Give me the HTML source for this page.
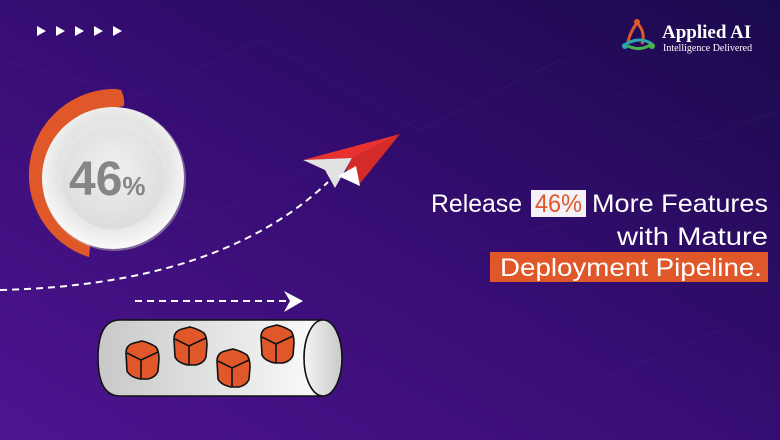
<!DOCTYPE html>
<html><head><meta charset="utf-8"><style>
html,body{margin:0;padding:0;width:780px;height:440px;overflow:hidden}
svg{display:block}
</style></head><body>
<svg width="780" height="440" viewBox="0 0 780 440" xmlns="http://www.w3.org/2000/svg">
<defs>
<linearGradient id="bg" x1="0" y1="1" x2="1" y2="0">
<stop offset="0" stop-color="#4e1490"/>
<stop offset="0.5" stop-color="#360d72"/>
<stop offset="1" stop-color="#1a0a4c"/>
</linearGradient>
<radialGradient id="plate" cx="0.5" cy="0.45" r="0.55">
<stop offset="0" stop-color="#f2f2f2"/>
<stop offset="0.7" stop-color="#e4e4e4"/>
<stop offset="1" stop-color="#fafafa"/>
</radialGradient>
<radialGradient id="inner" cx="0.5" cy="0.4" r="0.6">
<stop offset="0" stop-color="#f0f0f0"/>
<stop offset="1" stop-color="#dcdcdc"/>
</radialGradient>
<linearGradient id="pipe" x1="0" y1="0" x2="1" y2="0">
<stop offset="0" stop-color="#c8c8c8"/>
<stop offset="1" stop-color="#fbfbfb"/>
</linearGradient>
<linearGradient id="cap" x1="0" y1="0" x2="1" y2="0">
<stop offset="0" stop-color="#f4f4f4"/>
<stop offset="1" stop-color="#c9c9c9"/>
</linearGradient>
<g id="cube">
<path d="M-16,-8 Q-16,-16 -8,-18 L0,-20 Q8,-18 14,-14 Q17,-10 17,-2 L16,10 Q14,16 6,18 L-2,18 Q-12,16 -15,10 Z" fill="#e0582a" stroke="#111" stroke-width="1.6"/>
<path d="M-15,-8 L-1,-1 L16,-9 M-1,-1 L-1,18" fill="none" stroke="#111" stroke-width="1.6"/>
</g>
</defs>
<rect width="780" height="440" fill="url(#bg)"/>
<g stroke="#6a4aa8" stroke-width="0.5" opacity="0.25" fill="none">
<path d="M0,60 L140,95 L260,40 L420,130 L560,60 L700,140 L780,110"/>
<path d="M40,180 L200,220 L330,160 L480,250 L620,200 L780,300"/>
<path d="M500,300 L600,380 L720,330 L780,420"/>
</g>
<g fill="#fff">
<polygon points="37,26 46,31 37,36"/>
<polygon points="56,26 65,31 56,36"/>
<polygon points="75,26 84,31 75,36"/>
<polygon points="94,26 103,31 94,36"/>
<polygon points="113,26 122,31 113,36"/>
</g>
<path d="M116,89 L121,90 Q125,98 124,106 L113,108 L90,246 L89,257 A86,86 0 0 1 116,89 Z" fill="#e0582a"/>
<path d="M89,257 A86,86 0 0 1 116,89 L116,108 A70,70 0 0 0 90,246 Z" fill="#e0582a"/>
<circle cx="114" cy="179" r="72" fill="#b8b8b8" opacity="0.5"/>
<circle cx="113" cy="178" r="71" fill="url(#plate)"/>
<circle cx="113" cy="178" r="51" fill="url(#inner)"/>
<text x="69" y="195" font-family="Liberation Sans,sans-serif" font-weight="bold" font-size="48" fill="#868686">46<tspan font-size="26">%</tspan></text>
<path d="M0,290 Q220,285 328,182" fill="none" stroke="#fff" stroke-width="2" stroke-dasharray="7,5"/>
<polygon points="303,160 400,134 352,158" fill="#e8322e"/>
<polygon points="303,160 352,158 335,188 325,170" fill="#e2e2e2"/>
<polygon points="352,158 400,134 358,186 346,170" fill="#d42a28"/>
<polygon points="338,176 356,166 360,186" fill="#ffffff"/>
<line x1="135" y1="301" x2="288" y2="301" stroke="#fff" stroke-width="2" stroke-dasharray="7,5"/>
<polygon points="284,291 303,301 284,312 290,301" fill="#fff"/>
<path d="M120,320 L322,320 L322,396 L120,396 Q98,396 98,358 Q98,320 120,320 Z" fill="url(#pipe)" stroke="#111" stroke-width="1.6"/>
<ellipse cx="323" cy="358" rx="19" ry="38" fill="url(#cap)" stroke="#111" stroke-width="1.6"/>
<use href="#cube" x="142" y="361"/>
<use href="#cube" x="190" y="347"/>
<use href="#cube" x="233" y="369"/>
<use href="#cube" x="277" y="345"/>
<g font-family="Liberation Sans,sans-serif" font-size="25" fill="#fff">
<rect x="531" y="190" width="55" height="27" fill="#f4f2f7"/>
<text x="431" y="212" textLength="91" lengthAdjust="spacingAndGlyphs">Release</text>
<text x="535" y="212" textLength="47" lengthAdjust="spacingAndGlyphs" fill="#e0582a">46%</text>
<text x="592" y="212" textLength="176" lengthAdjust="spacingAndGlyphs">More Features</text>
<text x="617" y="245" textLength="151" lengthAdjust="spacingAndGlyphs">with Mature</text>
<rect x="490" y="252" width="278" height="30" fill="#e0582a"/>
<text x="500" y="276" textLength="262" lengthAdjust="spacingAndGlyphs">Deployment Pipeline.</text>
</g>
<g fill="none" stroke-width="3">
<path d="M637,23 Q630,32 628,42" stroke="#e0582a"/>
<path d="M637,23 Q646,32 642,44" stroke="#e0582a"/>
<path d="M626,44 Q640,36 652,44" stroke="#2aa8b0"/>
<path d="M628,46 Q640,52 652,44" stroke="#4caf50"/>
</g>
<circle cx="637" cy="22" r="3" fill="#e0582a"/>
<circle cx="625" cy="46" r="3" fill="#2aa8b0"/>
<circle cx="652" cy="46" r="3" fill="#4caf50"/>
<text x="662" y="38" font-family="Liberation Serif,serif" font-weight="bold" font-size="19" fill="#fff">Applied AI</text>
<text x="663" y="51" font-family="Liberation Serif,serif" font-size="10" fill="#fff">Intelligence Delivered</text>
</svg>
</body></html>
